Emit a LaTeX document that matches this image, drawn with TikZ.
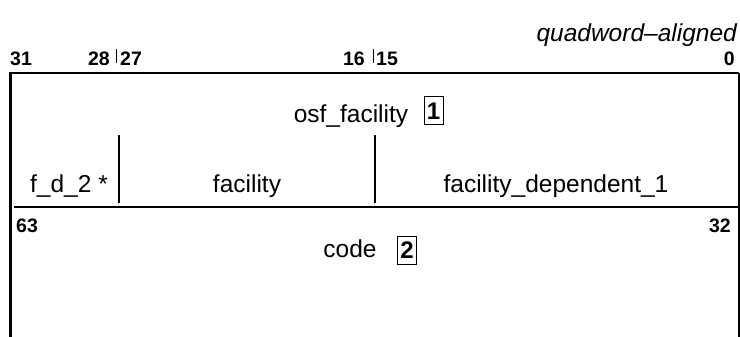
\documentclass[tikz,border=0pt]{standalone}
\usepackage{fontspec}
\setmainfont{Liberation Sans}
\begin{document}
\begin{tikzpicture}[x=1pt,y=-1pt,
  bitnum/.style={font=\fontsize{19.5}{21}\selectfont\bfseries, inner sep=0pt},
  fieldtxt/.style={font=\fontsize{24.5}{28}\selectfont, inner sep=0pt},
  notebox/.style={draw, line width=1pt, font=\fontsize{24}{26}\selectfont\bfseries, inner sep=0.5pt, minimum height=28pt, minimum width=19pt},
  thick bar/.style={line width=3pt},
  frame/.style={line width=2.2pt},
  thinline/.style={line width=1.3pt}]
\useasboundingbox (0,0) rectangle (740,337);
% frame
\coordinate (tl) at (10.5,72);
\coordinate (bl) at (10.5,337);
\coordinate (tr) at (739,73);
\coordinate (br) at (739,337);
\coordinate (ml) at (14,207);
\coordinate (mr) at (740,207);
\draw[thick bar] (tl) -- (bl);
\draw[frame] (9,73) -- (tr);
\draw[thinline] (tr) -- (br);
\draw[frame] (ml) -- (mr);
% dividers
\coordinate (d1t) at (119,135);
\coordinate (d1b) at (119,203);
\coordinate (d2t) at (375,135);
\coordinate (d2b) at (375,203);
\draw[line width=1.2pt] (d1t) -- (d1b);
\draw[line width=1.2pt] (d2t) -- (d2b);
% ticks
\coordinate (t1t) at (116,49);
\coordinate (t1b) at (116,63);
\coordinate (t2t) at (373,49);
\coordinate (t2b) at (373,63);
\draw[line width=0.9pt] (t1t) -- (t1b);
\draw[line width=0.9pt] (t2t) -- (t2b);
% bit numbers
\node[bitnum, anchor=base west] (b31) at (10,66) {31};
\node[bitnum, anchor=base east] (b28) at (110,66) {28};
\node[bitnum, anchor=base west] (b27) at (120,66) {27};
\node[bitnum, anchor=base east] (b16) at (365,66) {16};
\node[bitnum, anchor=base west] (b15) at (376,66) {15};
\node[bitnum, anchor=base east] (b0) at (735,66) {0};
\node[bitnum, anchor=base west] (b63) at (16,232) {63};
\node[bitnum, anchor=base east] (b32) at (731,232) {32};
% caption
\node[fieldtxt, font=\fontsize{24.5}{28}\selectfont\itshape, anchor=base east] (qa) at (737,42) {quadword–aligned};
% fields
\node[fieldtxt, anchor=base] (osf) at (351,123) {osf\_facility};
\node[notebox, anchor=center] (n1) at (433.5,111) {1};
\node[fieldtxt, anchor=base] (fd2) at (69,192) {f\_d\_2 *};
\node[fieldtxt, anchor=base] (fac) at (247,192) {facility};
\node[fieldtxt, anchor=base] (fd1) at (556,192) {facility\_dependent\_1};
\node[fieldtxt, anchor=base] (code) at (350,257) {code};
\node[notebox, anchor=center] (n2) at (407,250) {2};
\end{tikzpicture}
\end{document}
